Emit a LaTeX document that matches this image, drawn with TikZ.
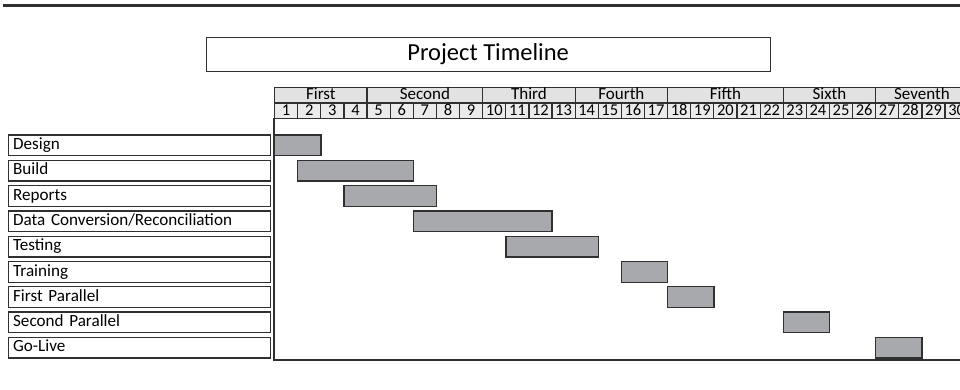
\documentclass[tikz,border=0pt]{standalone}
\usepackage{fontspec}
\setmainfont{Carlito}
\definecolor{ink}{HTML}{303030}
\definecolor{barfill}{HTML}{A8A9AD}
\definecolor{headfill}{HTML}{E2E2E3}
\definecolor{dayfill}{HTML}{EBEBEC}
\tikzset{
  cell/.style={draw=ink,line width=1.2pt,anchor=north west,inner sep=0pt,minimum height=15.5pt,text height=11pt,text depth=2.5pt,font=\fontsize{17}{17}\selectfont},
  task/.style={draw=ink,line width=1.3pt,anchor=north west,minimum width=262pt,minimum height=20.7pt,inner ysep=0pt,inner xsep=4.5pt,text width=253pt,text height=12pt,text depth=3.5pt,align=left,font=\fontsize{17.1}{17}\selectfont},
  bar/.style={draw=ink,fill=barfill,line width=1.3pt,anchor=north west,inner sep=0pt,minimum height=20.7pt}
}
\newcommand{\dw}{23.12}
\newcommand{\xo}{274}
\begin{document}
\begin{tikzpicture}[x=1pt,y=-1pt]
\useasboundingbox (0,0) rectangle (960,390);
\clip (0,0) rectangle (960,390);
\draw[ink,line width=2.5pt] (3,5.5) -- (960,5.5);
% title
\node[draw=ink,line width=1.3pt,minimum width=564pt,minimum height=34pt,anchor=north west,inner sep=0pt,font=\fontsize{24.5}{24}\selectfont] (title) at (205.5,36.7) {Project Timeline};
% months and days
\foreach \name/\s/\e [count=\i] in {First/1/4,Second/5/9,Third/10/13,Fourth/14/17,Fifth/18/22,Sixth/23/26,Seventh/27/30}
  \node[cell,fill=headfill,minimum width={(\e-\s+1)*\dw*1pt}] (m\i) at ({\xo+(\s-1)*\dw},87) {\name};
\foreach \d in {1,...,30}
  \node[cell,fill=dayfill,minimum width=\dw pt,font=\fontsize{16.5}{16}\selectfont] (d\d) at ({\xo+(\d-1)*\dw},102.5) {\d};
% frame
\coordinate (fl) at (\xo,118);
\coordinate (fb) at (\xo,360);
\coordinate (fr) at (960,360);
\draw[ink,line width=1.3pt] (fl) -- (fb) -- (fr);
% tasks and bars
\foreach \txt/\s/\e [count=\i] in {Design/1/2,Build/2/6,Reports/4/7,{Data Conversion/Reconciliation}/7/12,Testing/11/14,Training/16/17,First Parallel/18/19,Second Parallel/23/24,Go-Live/27/28}{
  \node[task] (t\i) at (8,{134.3+(\i-1)*25.3}) {\txt};
  \node[bar,minimum width={(\e-\s+1)*\dw*1pt}] (b\i) at ({\xo+(\s-1)*\dw},{134.3+(\i-1)*25.3}) {};
}
\end{tikzpicture}
\end{document}
